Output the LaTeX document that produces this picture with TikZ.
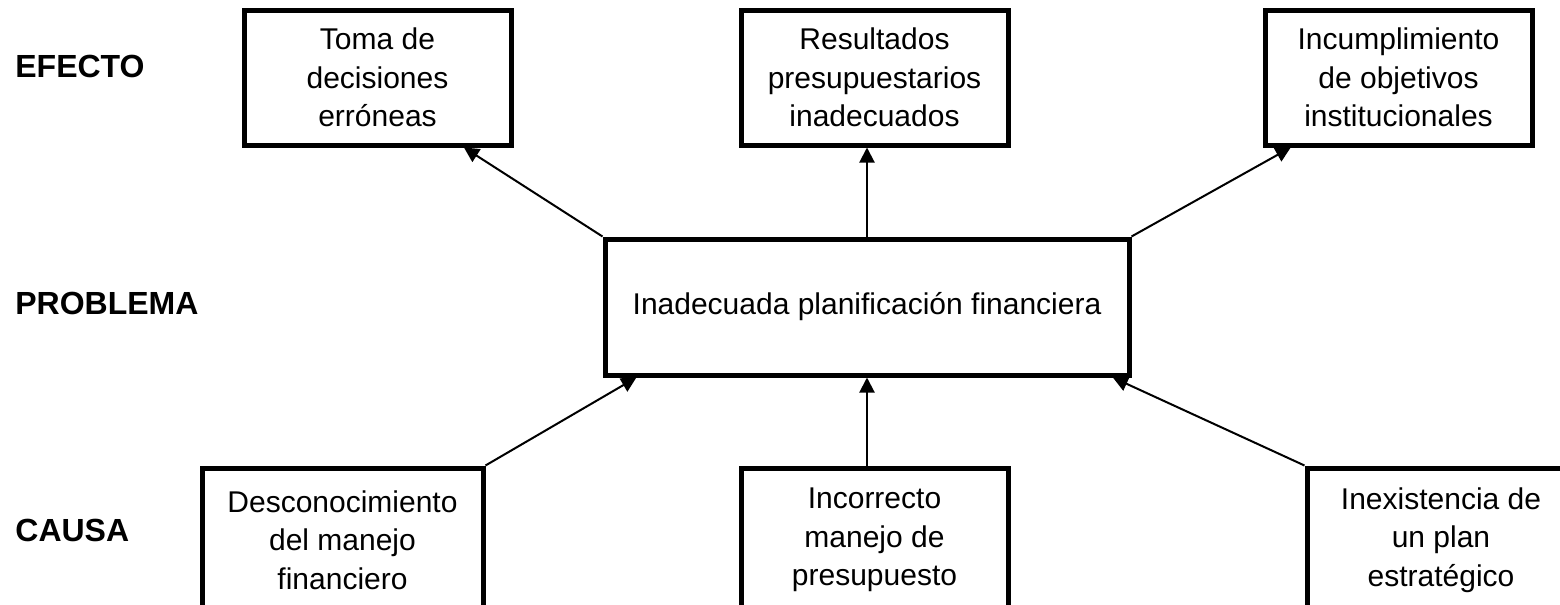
\documentclass[tikz,border=0pt]{standalone}
\usepackage{fontspec}
\setmainfont{Liberation Sans}
\usepackage{tikz}
\usetikzlibrary{arrows.meta,positioning}
\tikzset{
    box style/.style={draw,line width=2.5pt,align=center,inner sep=0pt,font=\fontsize{15}{19.25}\selectfont},
    effect box/.style={box style,minimum width=133.5pt,minimum height=67.5pt},
    cause box/.style={box style,minimum height=72pt},
    problem box/.style={box style,minimum width=262pt,minimum height=68pt},
    level label/.style={anchor=west,inner sep=0pt,font=\fontsize{16}{19}\selectfont\bfseries},
    arr/.style={-{Triangle[length=7.5pt,width=7.5pt]},line width=1pt},
}

\begin{document}
\begin{tikzpicture}[x=0.5pt,y=-0.5pt]
    \useasboundingbox (0,0) rectangle (1560,605);
    % niveles
    \node[level label] (efecto) at (15,66) {EFECTO};
    \node[level label] (problema) at (15,303) {PROBLEMA};
    \node[level label] (causa) at (15,530) {CAUSA};
    % efectos
    \node[effect box] (efe1) at (377.5,77.5) {Toma de\\decisiones\\erróneas};
    \node[effect box] (efe2) at (874.5,77.5) {Resultados\\presupuestarios\\inadecuados};
    \node[effect box] (efe3) at (1398.5,77.5) {Incumplimiento\\de objetivos\\institucionales};
    % problema
    \node[problem box] (prob) at (867,307) {Inadecuada planificación financiera};
    % causas
    \node[cause box,minimum width=140.5pt] (cau1) at (342.5,540) {Desconocimiento\\del manejo\\financiero};
    \node[cause box,minimum width=133.5pt] (cau2) at (874.5,540) {Incorrecto\\manejo de\\presupuesto};
    \node[cause box,minimum width=134pt] (cau3) at (1441,540) {Inexistencia de\\un plan\\estratégico};

    \draw[arr] (prob.north west) -- (efe1.-39);
    \draw[arr] (prob.north) -- (prob.north |- efe2.south);
    \draw[arr] (prob.north east) -- (efe3.-147);
    \draw[arr] (cau1.north east) -- (prob.-163);
    \draw[arr] (prob.south |- cau2.north) -- (prob.south);
    \draw[arr] (cau3.north west) -- (prob.-16);
\end{tikzpicture}
\end{document}
